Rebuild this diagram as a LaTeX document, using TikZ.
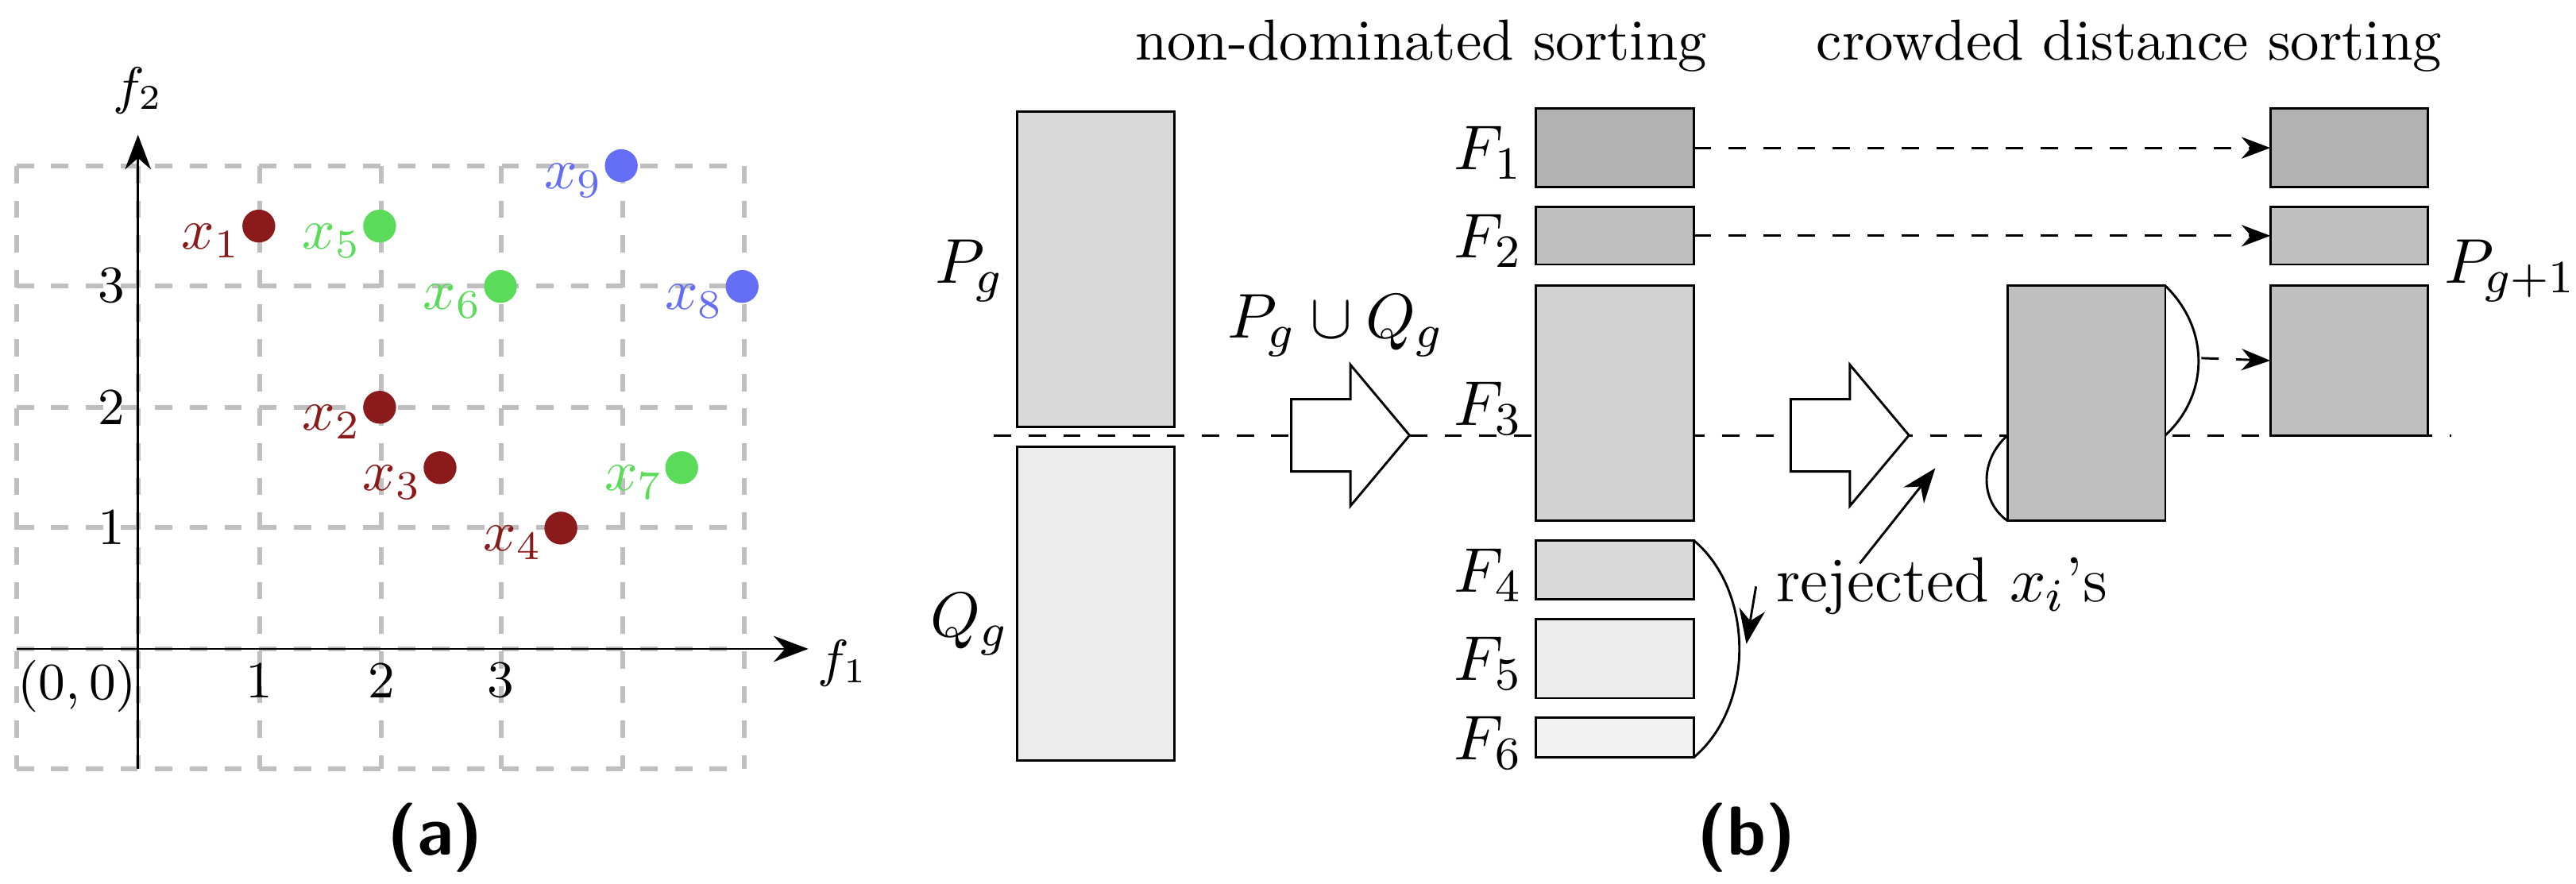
\documentclass[tikz,border=0pt]{standalone}
\usepackage{amsmath}
\usepackage{amssymb}
\usetikzlibrary{arrows.meta}
\definecolor{dred}{RGB}{139,26,26}
\definecolor{lgreen}{RGB}{90,220,90}
\definecolor{lblue}{RGB}{100,110,245}
\tikzset{
  box/.style={draw,inner sep=0pt,outer sep=0pt,minimum width=0.96cm},
  pt/.style={circle,fill=#1,inner sep=0pt,minimum size=0.2cm},
  grd/.style={gray!50,dashed,thick},
  big/.style={font=\fontsize{11}{13}\selectfont},
  pass/.style={dashed,-{Stealth[length=5pt]}},
}
\begin{document}
\begin{tikzpicture}[x=0.01cm,y=-0.01cm]
\useasboundingbox (0,0) rectangle (1568,538);
% (a) grid and axes
\foreach \gx in {10,84,158,232,305,379,453} \draw[grd] (\gx,101) -- (\gx,468);
\foreach \gy in {101,174,248,321,395,468} \draw[grd] (10,\gy) -- (453,\gy);
\coordinate (o) at (84,395);
\coordinate (xe) at (492,395);
\coordinate (ye) at (84,82);
\draw[-{Stealth[length=6pt]}] (10,395) -- (xe);
\draw[-{Stealth[length=6pt]}] (84,468) -- (ye);
\node[font=\small] (f1) at (513,404) {$f_1$};
\node[font=\small] (f2) at (84,55) {$f_2$};
\node[font=\small] (orig) at (47,418) {$(0,0)$};
\node[font=\small] (t1) at (158,414) {1};
\node[font=\small] (t2) at (232,414) {2};
\node[font=\small] (t3) at (305,414) {3};
\node[font=\small] (s1) at (68,321) {1};
\node[font=\small] (s2) at (68,248) {2};
\node[font=\small] (s3) at (68,174) {3};
\begin{scope}[shift={(o)},x=0.735cm,y=0.735cm]
  \foreach \nm/\px/\py/\cl in {1/1/3.5/dred,2/2/2/dred,3/2.5/1.5/dred,4/3.5/1/dred,
      5/2/3.5/lgreen,6/3/3/lgreen,7/4.5/1.5/lgreen,8/5/3/lblue,9/4/4/lblue}
  {
    \node[pt=\cl] (x\nm) at (\px,\py) {};
    \node[text=\cl] at ([xshift=-0.29cm,yshift=-0.09cm]x\nm) {$x_{\nm}$};
  }
\end{scope}
\node[font=\large\sffamily\bfseries] (capa) at (265,510) {(a)};
% (b)
\node (nds) at (865,28) {non-dominated sorting};
\node (cds) at (1296,28) {crowded distance sorting};
\node[box,fill=gray!30,minimum height=1.92cm] (P) at (667,164) {};
\node[box,fill=gray!15,minimum height=1.91cm] (Q) at (667,367.5) {};
\node[big] (Pl) at (590,165) {$P_g$};
\node[big] (Ql) at (590,380) {$Q_g$};
\draw[dashed] (605,265) -- (1492,265);
\foreach \ax in {786,1090}
  \draw[fill=white] (\ax,243) -- (\ax+36,243) -- (\ax+36,222) -- (\ax+72,265)
    -- (\ax+36,308) -- (\ax+36,287) -- (\ax,287) -- cycle;
\node[big] (PQ) at (813,198) {$P_g\cup Q_g$};
\foreach \nm/\ya/\yb/\fl in {1/66/114/60,2/126/161/50,3/174/317/35,4/329/365/30,5/377/425/15,6/437/461/10}
{
  \node[box,fill=gray!\fl,minimum height={(\yb-\ya)*0.01cm}] (F\nm) at (983,{(\ya+\yb)/2}) {};
  \node[big] (Fl\nm) at (906,{(\ya+\yb)/2+3}) {$F_{\nm}$};
}
\node[box,fill=gray!50,minimum height=1.43cm] (M) at (1270,245.5) {};
\node[box,fill=gray!60,minimum height=0.48cm] (R1) at (1430,90) {};
\node[box,fill=gray!50,minimum height=0.35cm] (R2) at (1430,143.5) {};
\node[box,fill=gray!50,minimum height=0.91cm] (R3) at (1430,219.5) {};
\node[big] (Pn) at (1528,165) {$P_{g+1}$};
\draw (F4.north east) .. controls (1068,360) and (1068,430) .. (F6.south east);
\draw (M.north east) .. controls (1345,200) and (1345,240) .. (1318,265);
\coordinate (cut) at (1222,265);
\draw (cut) .. controls (1205,280) and (1205,305) .. (M.south west);
\node[big] (rej) at (1182,357) {rejected $x_i$'s};
\draw[-{Stealth[length=6pt]}] (rej.west) -- (1063,392);
\draw[-{Stealth[length=6pt]}] (1132,343) -- (1178,285);
\draw[pass] (F1.east) -- (R1.west);
\draw[pass] (F2.east) -- (R2.west);
\draw[pass] (1340,218) -- (R3.west);
\node[font=\large\sffamily\bfseries] (capb) at (1063,510) {(b)};
\end{tikzpicture}
\end{document}
